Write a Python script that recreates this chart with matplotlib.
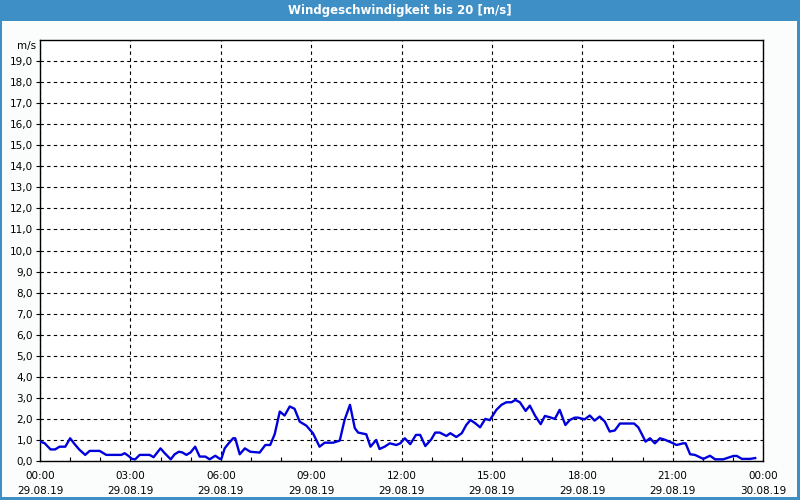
#!/usr/bin/env python3
"""Wind speed over one day (29.08.19), up to 20 m/s."""

import matplotlib

matplotlib.use("Agg")
import matplotlib.pyplot as plt
import matplotlib.ticker as mticker
from matplotlib.patches import Rectangle

# time in hours since 29.08.19 00:00, wind speed in m/s
hours = [
    0.00, 0.15, 0.35, 0.50, 0.65, 0.84, 1.00, 1.15, 1.30, 1.50, 1.65, 1.98,
    2.20, 2.70, 2.81, 2.94, 3.05, 3.16, 3.31, 3.64, 3.77, 4.00, 4.14, 4.34,
    4.47, 4.61, 4.72, 4.86, 5.00, 5.15, 5.30, 5.49, 5.63, 5.82, 5.97, 6.02,
    6.13, 6.24, 6.41, 6.48, 6.63, 6.80, 6.98, 7.29, 7.48, 7.64, 7.79, 7.96,
    8.12, 8.29, 8.45, 8.62, 8.84, 9.06, 9.28, 9.45, 9.73, 9.95, 10.11, 10.29,
    10.45, 10.56, 10.83, 10.97, 11.16, 11.27, 11.44, 11.61, 11.83, 11.96,
    12.11, 12.29, 12.48, 12.62, 12.79, 12.99, 13.12, 13.27, 13.49, 13.62,
    13.82, 14.00, 14.15, 14.29, 14.45, 14.61, 14.78, 14.93, 15.15, 15.32,
    15.48, 15.65, 15.78, 15.93, 16.12, 16.26, 16.43, 16.62, 16.76, 16.92,
    17.09, 17.25, 17.44, 17.59, 17.75, 17.86, 18.08, 18.25, 18.41, 18.58,
    18.75, 18.91, 19.08, 19.25, 19.41, 19.72, 19.86, 19.99, 20.10, 20.25,
    20.41, 20.58, 20.76, 21.02, 21.13, 21.35, 21.43, 21.58, 21.74, 22.02,
    22.24, 22.41, 22.68, 22.85, 23.02, 23.13, 23.30, 23.57, 23.74,
]
speed = [
    0.92, 0.85, 0.55, 0.55, 0.68, 0.68, 1.08, 0.80, 0.55, 0.29, 0.48, 0.48,
    0.29, 0.29, 0.37, 0.24, 0.10, 0.08, 0.29, 0.29, 0.18, 0.60, 0.37, 0.08,
    0.32, 0.44, 0.41, 0.29, 0.41, 0.68, 0.21, 0.21, 0.08, 0.25, 0.10, 0.10,
    0.60, 0.80, 1.08, 1.08, 0.32, 0.60, 0.44, 0.40, 0.76, 0.76, 1.27, 2.35,
    2.16, 2.59, 2.48, 1.87, 1.68, 1.32, 0.68, 0.87, 0.87, 0.97, 1.95, 2.67,
    1.56, 1.35, 1.27, 0.68, 1.00, 0.57, 0.68, 0.84, 0.76, 0.84,
    1.08, 0.80, 1.24, 1.24, 0.71, 1.03, 1.35, 1.35, 1.19, 1.32,
    1.14, 1.32, 1.71, 1.95, 1.79, 1.60, 2.00, 1.94, 2.43, 2.67,
    2.79, 2.79, 2.90, 2.79, 2.38, 2.63, 2.16, 1.75, 2.14, 2.08,
    2.00, 2.43, 1.71, 1.95, 2.06, 2.06, 1.98, 2.16, 1.92, 2.11,
    1.87, 1.40, 1.45, 1.78, 1.78, 1.78, 1.60, 1.24, 0.92, 1.08,
    0.84, 1.08, 1.00, 0.84, 0.76, 0.84, 0.84, 0.32, 0.29, 0.10,
    0.25, 0.08, 0.08, 0.16, 0.24, 0.24, 0.10, 0.10, 0.14,
]

x_ticks = [0, 3, 6, 9, 12, 15, 18, 21, 24]
x_labels = [
    "00:00\n29.08.19", "03:00\n29.08.19", "06:00\n29.08.19", "09:00\n29.08.19",
    "12:00\n29.08.19", "15:00\n29.08.19", "18:00\n29.08.19", "21:00\n29.08.19",
    "00:00\n30.08.19",
]
y_ticks = list(range(0, 20))

FRAME = "#3d8fc6"


def main():
    fig = plt.figure(figsize=(8, 5), dpi=100, facecolor="#fbfdfd")

    # window frame with title bar
    fig.patches.append(Rectangle((0, 1 - 21 / 500), 1, 21 / 500, transform=fig.transFigure,
                                 facecolor=FRAME, edgecolor="none", zorder=0))
    fig.patches.append(Rectangle((0, 0), 2 / 800, 1, transform=fig.transFigure,
                                 facecolor=FRAME, edgecolor="none", zorder=0))
    fig.patches.append(Rectangle((1 - 3 / 800, 0), 3 / 800, 1, transform=fig.transFigure,
                                 facecolor=FRAME, edgecolor="none", zorder=0))
    fig.patches.append(Rectangle((0, 0), 1, 3 / 500, transform=fig.transFigure,
                                 facecolor=FRAME, edgecolor="none", zorder=0))
    fig.text(0.5, 1 - 10.5 / 500, "Windgeschwindigkeit bis 20 [m/s]", color="white",
             fontsize=8.5, fontweight="bold", ha="center", va="center")

    ax = fig.add_axes([40 / 800, 1 - 461 / 500, 723 / 800, 421 / 500])
    ax.set_facecolor("white")
    ax.plot(hours, speed, color="#0000dd", linewidth=1.7, zorder=3)

    ax.set_xlim(0, 24)
    ax.set_ylim(0, 20)
    ax.set_xticks(x_ticks)
    ax.set_xticklabels(x_labels, fontsize=7.5, linespacing=1.7)
    ax.xaxis.set_minor_locator(mticker.MultipleLocator(1))
    ax.set_yticks(y_ticks)
    ax.set_yticklabels([f"{v},0" for v in y_ticks], fontsize=7.5)

    ax.tick_params(axis="x", which="major", length=0, pad=7)
    ax.tick_params(axis="x", which="minor", direction="in", length=3, width=0.8)
    ax.tick_params(axis="y", length=3, width=0.8, pad=2)
    ax.grid(True, which="major", color="black", linestyle=(0, (3, 3)), linewidth=0.8)
    for s in ax.spines.values():
        s.set_linewidth(1.0)
        s.set_color("black")

    ax.text(-0.005, 19.7, "m/s", transform=ax.get_yaxis_transform(), fontsize=7.5,
            ha="right", va="center")

    fig.savefig("out.png", dpi=100, facecolor=fig.get_facecolor())
    plt.close(fig)


if __name__ == "__main__":
    main()
